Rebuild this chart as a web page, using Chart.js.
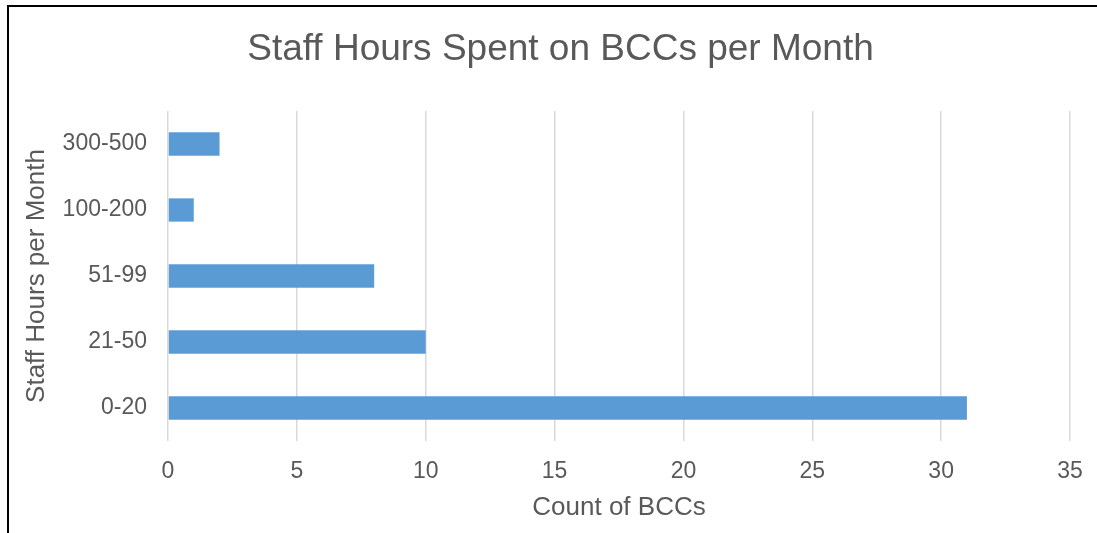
<!DOCTYPE html>
<html>
<head>
<meta charset="utf-8">
<script src="https://cdn.jsdelivr.net/npm/chart.js@4/dist/chart.umd.min.js"></script>
<style>
  html, body { margin: 0; padding: 0; background: #ffffff; overflow: hidden; }
  #wrap { position: relative; width: 1097px; height: 533px; }
  #frame { position: absolute; left: 7px; top: 5px; width: 1200px; height: 700px;
           border-top: 2px solid #000; border-left: 2px solid #000; pointer-events: none; }
</style>
</head>
<body>
<div id="wrap">
  <canvas id="c"></canvas>
  <div id="frame"></div>
</div>
<script>
const categories = ["300-500", "100-200", "51-99", "21-50", "0-20"];
const counts = [2, 1, 8, 10, 31];
const xTicks = [0, 5, 10, 15, 20, 25, 30, 35];
const chartTitle = "Staff Hours Spent on BCCs per Month";
const xTitle = "Count of BCCs";
const yTitle = "Staff Hours per Month";

const FONT = "'Liberation Sans', Arial, sans-serif";
const TEXT = "#595959";

new Chart(document.getElementById("c"), {
  type: "bar",
  data: {
    labels: categories,
    datasets: [{
      data: counts,
      backgroundColor: "#5B9BD5",
      borderWidth: 0,
      categoryPercentage: 1,
      barPercentage: 0.353
    }]
  },
  options: {
    indexAxis: "y",
    responsive: true,
    maintainAspectRatio: false,
    animation: false,
    layout: { padding: { left: 48, right: 24, top: 0, bottom: 0 } },
    plugins: {
      legend: { display: false },
      tooltip: { enabled: false },
      title: {
        display: true,
        text: chartTitle,
        color: TEXT,
        font: { family: FONT, size: 37, weight: "normal", lineHeight: 1.2 },
        padding: { top: 27.5, bottom: 39.1 }
      }
    },
    scales: {
      x: {
        type: "linear",
        min: 0,
        max: 35,
        afterBuildTicks: (axis) => { axis.ticks = xTicks.map(v => ({ value: v })); },
        afterFit: (axis) => { axis.height = 92; axis.paddingRight = 27; axis.paddingLeft = 0; },
        grid: { color: "#d9d9d9", lineWidth: 1.5, drawTicks: false },
        border: { display: false },
        ticks: { color: TEXT, padding: 17, font: { family: FONT, size: 23 } },
        title: {
          display: true,
          text: xTitle,
          color: TEXT,
          font: { family: FONT, size: 26 },
          padding: { top: 0, bottom: 10 }
        }
      },
      y: {
        afterFit: (axis) => { axis.width = 120; },
        grid: { display: false, drawTicks: false },
        border: { display: false },
        ticks: { color: TEXT, padding: 21, font: { family: FONT, size: 23 } },
        title: {
          display: true,
          text: yTitle,
          color: TEXT,
          font: { family: FONT, size: 26 },
          padding: { top: -26.6, bottom: 0 }
        }
      }
    }
  }
});
</script>
</body>
</html>
